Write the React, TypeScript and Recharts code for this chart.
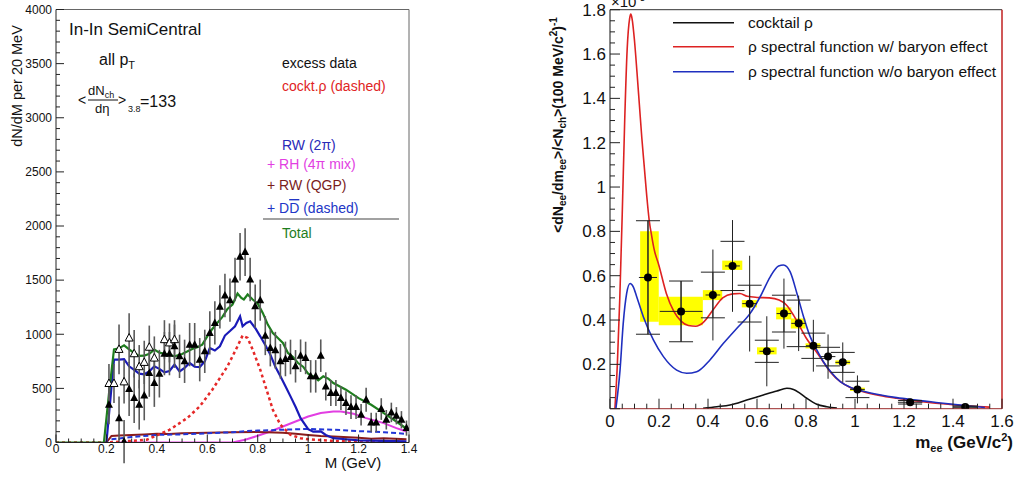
import React from 'react';
import { ComposedChart, Line, Scatter, XAxis, YAxis, ErrorBar, ReferenceArea, ReferenceLine } from 'recharts';

const FONT = '"Liberation Sans", Arial, Helvetica, sans-serif';

// ---------------- Left panel (In-In SemiCentral) ----------------
const totalM = [0, 0.19, 0.21, 0.23, 0.25, 0.27, 0.29, 0.31, 0.33, 0.35, 0.37, 0.39, 0.41, 0.43, 0.45, 0.47, 0.5, 0.52, 0.54, 0.56, 0.58, 0.6, 0.62, 0.64, 0.66, 0.68, 0.7, 0.72, 0.735, 0.745, 0.76, 0.78, 0.8, 0.82, 0.84, 0.86, 0.88, 0.9, 0.92, 0.94, 0.96, 0.98, 1.0, 1.02, 1.04, 1.06, 1.08, 1.1, 1.15, 1.2, 1.25, 1.3, 1.35, 1.39];
const totalN = [0, 0, 450, 860, 870, 898, 860, 827, 800, 802, 820, 858, 830, 820, 810, 796, 818, 840, 864, 880, 904, 981, 1049, 1105, 1160, 1234, 1275, 1376, 1336, 1321, 1367, 1321, 1284, 1197, 1089, 1010, 966, 920, 827, 790, 734, 700, 636, 610, 574, 611, 590, 549, 488, 410, 349, 272, 194, 127];

const rw2piM = [0.2, 0.23, 0.25, 0.27, 0.29, 0.31, 0.33, 0.35, 0.37, 0.39, 0.41, 0.43, 0.45, 0.47, 0.49, 0.51, 0.53, 0.55, 0.57, 0.59, 0.61, 0.63, 0.65, 0.67, 0.69, 0.71, 0.73, 0.74, 0.755, 0.77, 0.79, 0.81, 0.83, 0.85, 0.87, 0.89, 0.91, 0.93, 0.95, 0.97, 1.0, 1.02, 1.05, 1.07, 1.1, 1.15, 1.2, 1.3, 1.39];
const rw2piN = [0, 765, 765, 770, 704, 670, 636, 630, 657, 704, 680, 648, 660, 719, 657, 690, 734, 700, 697, 750, 873, 850, 889, 988, 1030, 1074, 1166, 1074, 1105, 1120, 1058, 981, 900, 812, 700, 611, 520, 426, 330, 225, 123, 100, 102, 70, 40, 30, 20, 15, 10];

const cocktM = [0, 0.2, 0.3, 0.36, 0.45, 0.52, 0.57, 0.62, 0.68, 0.72, 0.74, 0.76, 0.78, 0.81, 0.835, 0.86, 0.89, 0.93, 0.97, 1.0, 1.1, 1.2, 1.39];
const cocktN = [0, 0, 15, 25, 117, 225, 333, 488, 703, 889, 988, 966, 858, 673, 488, 302, 164, 71, 40, 30, 15, 10, 5];

const rhM = [0.25, 0.7, 0.75, 0.8, 0.85, 0.9, 0.95, 1.0, 1.05, 1.1, 1.13, 1.18, 1.23, 1.3, 1.35, 1.39];
const rhN = [0, 0, 25, 62, 102, 148, 194, 240, 272, 287, 287, 265, 225, 179, 133, 102];

const qgpM = [0.2, 0.22, 0.25, 0.3, 0.35, 0.4, 0.45, 0.5, 0.6, 0.7, 0.8, 0.9, 0.95, 1.0, 1.05, 1.1, 1.2, 1.25, 1.3, 1.39];
const qgpN = [0, 60, 65, 70, 75, 80, 78, 85, 90, 95, 97, 90, 80, 70, 60, 55, 45, 35, 40, 30];

const ddM = [0.22, 0.3, 0.4, 0.5, 0.6, 0.7, 0.75, 0.8, 0.9, 1.0, 1.1, 1.2, 1.3, 1.39];
const ddN = [30, 50, 70, 75, 85, 95, 105, 110, 118, 125, 118, 105, 95, 80];

const excessM = [0.21, 0.25, 0.27, 0.29, 0.31, 0.33, 0.35, 0.37, 0.39, 0.41, 0.43, 0.45, 0.47, 0.49, 0.51, 0.53, 0.55, 0.57, 0.59, 0.61, 0.63, 0.65, 0.67, 0.69, 0.71, 0.73, 0.75, 0.77, 0.79, 0.81, 0.83, 0.85, 0.87, 0.89, 0.91, 0.93, 0.95, 0.97, 0.99, 1.01, 1.03, 1.05, 1.07, 1.09, 1.11, 1.13, 1.15, 1.17, 1.19, 1.21, 1.23, 1.25, 1.27, 1.29, 1.31, 1.33, 1.35, 1.37, 1.39];
const excessN = [349, 225, 9, 494, 410, 349, 435, 642, 549, 636, 821, 821, 889, 796, 750, 904, 904, 765, 842, 1012, 1105, 1253, 1358, 1315, 1506, 1716, 1759, 1506, 1259, 1315, 987, 873, 852, 750, 772, 790, 704, 802, 781, 611, 611, 802, 518, 457, 457, 410, 364, 327, 327, 256, 395, 185, 185, 309, 210, 278, 247, 210, 133];
const excessErr = [180, 200, 200, 250, 230, 230, 230, 220, 220, 220, 200, 200, 200, 200, 200, 200, 200, 200, 200, 200, 200, 200, 200, 200, 200, 220, 220, 200, 200, 190, 180, 170, 170, 160, 160, 160, 150, 150, 150, 150, 150, 150, 130, 120, 120, 110, 110, 110, 110, 100, 110, 90, 90, 100, 90, 90, 80, 80, 70];

const openM = [0.21, 0.23, 0.25, 0.27, 0.29, 0.31, 0.33, 0.35, 0.37, 0.39, 0.43, 0.45, 0.47];
const openN = [545, 545, 860, 560, 965, 820, 700, 740, 880, 780, 950, 920, 950];
const openErr = [180, 180, 230, 200, 230, 220, 200, 200, 200, 200, 180, 180, 180];

const leftXMajor = [0, 0.2, 0.4, 0.6, 0.8, 1, 1.2, 1.4];
const leftYMajor = [0, 500, 1000, 1500, 2000, 2500, 3000, 3500, 4000];

// ---------------- Right panel (rho spectral function) ----------------
const cocktailRhoM = [0.38, 0.436, 0.49, 0.558, 0.626, 0.681, 0.722, 0.749, 0.776, 0.803, 0.844, 0.885, 0.926];
const cocktailRhoY = [0.002, 0.009, 0.017, 0.039, 0.062, 0.08, 0.092, 0.087, 0.069, 0.047, 0.02, 0.009, 0.003];

const withBaryonM = [0.02, 0.03, 0.04, 0.05, 0.06, 0.07, 0.08, 0.085, 0.09, 0.1, 0.11, 0.12, 0.13, 0.14, 0.15, 0.16, 0.17, 0.18, 0.2, 0.23, 0.26, 0.29, 0.32, 0.35, 0.38, 0.42, 0.46, 0.5, 0.53, 0.56, 0.6, 0.65, 0.69, 0.72, 0.75, 0.78, 0.8, 0.84, 0.87, 0.9, 0.94, 0.98, 1.03, 1.1, 1.17, 1.24, 1.31, 1.38, 1.44, 1.5, 1.55];
const withBaryonY = [0, 0.2, 0.5, 0.88, 1.3, 1.62, 1.76, 1.78, 1.76, 1.66, 1.52, 1.37, 1.22, 1.09, 0.96, 0.85, 0.78, 0.72, 0.645, 0.52, 0.44, 0.395, 0.375, 0.372, 0.388, 0.445, 0.5, 0.518, 0.52, 0.507, 0.502, 0.5, 0.49, 0.468, 0.42, 0.36, 0.32, 0.26, 0.212, 0.165, 0.122, 0.096, 0.078, 0.06, 0.047, 0.036, 0.027, 0.02, 0.014, 0.01, 0.007];

const noBaryonM = [0.024, 0.041, 0.054, 0.068, 0.082, 0.095, 0.109, 0.136, 0.177, 0.218, 0.272, 0.313, 0.354, 0.408, 0.463, 0.517, 0.572, 0.613, 0.654, 0.688, 0.708, 0.735, 0.763, 0.79, 0.817, 0.844, 0.871, 0.906, 0.94, 0.98, 1.03, 1.1, 1.17, 1.24, 1.31, 1.38, 1.44, 1.5, 1.53];
const noBaryonY = [0, 0.175, 0.385, 0.52, 0.565, 0.55, 0.505, 0.415, 0.31, 0.235, 0.174, 0.16, 0.167, 0.22, 0.295, 0.362, 0.43, 0.505, 0.595, 0.644, 0.648, 0.618, 0.52, 0.415, 0.325, 0.265, 0.212, 0.16, 0.122, 0.097, 0.08, 0.063, 0.05, 0.04, 0.031, 0.022, 0.015, 0.009, 0.005];

const dataM = [0.155, 0.29, 0.42, 0.5, 0.57, 0.64, 0.71, 0.77, 0.83, 0.89, 0.95, 1.01, 1.225, 1.45];
const dataY = [0.592, 0.439, 0.513, 0.644, 0.474, 0.259, 0.429, 0.385, 0.284, 0.235, 0.209, 0.087, 0.029, 0.008];
const dataErrTot = [0.256, 0.137, 0.205, 0.207, 0.216, 0.158, 0.158, 0.125, 0.117, 0.1, 0.09, 0.063, 0.012, 0.006];
const dataErrIn = [0.256, 0.137, 0.103, 0.111, 0.083, 0.05, 0.083, 0.105, 0.057, 0.042, 0.045, 0.037, 0.008, 0.004];
const dataErrX = [0.037, 0.087, 0.03, 0.03, 0.03, 0.03, 0.03, 0.03, 0.03, 0.03, 0.03, 0.03, 0.05, 0.05];

const sysLo = [0.123, 0.199, 0.379, 0.458, 0.538, 0.6, 0.678, 0.738, 0.798, 0.92, 0.98];
const sysHi = [0.199, 0.379, 0.458, 0.54, 0.6, 0.68, 0.74, 0.798, 0.858, 0.98, 1.04];
const sysBot = [0.392, 0.377, 0.49, 0.626, 0.457, 0.245, 0.403, 0.362, 0.272, 0.2, 0.08];
const sysTop = [0.8, 0.505, 0.535, 0.668, 0.49, 0.277, 0.457, 0.407, 0.295, 0.218, 0.095];

const rightXMajor = [0, 0.2, 0.4, 0.6, 0.8, 1, 1.2, 1.4, 1.6];
const rightYMajor = [0, 0.2, 0.4, 0.6, 0.8, 1, 1.2, 1.4, 1.6, 1.8];

// ---------------- helpers ----------------
const pts = (xs: number[], ys: number[]) => xs.map((x, i) => ({ x, y: ys[i] }));
const ptsErr = (xs: number[], ys: number[], es: number[]) => xs.map((x, i) => ({ x, y: ys[i], e: es[i] }));

const subdivide = (majors: number[], n: number) => {
  const out: number[] = [];
  for (let i = 0; i < majors.length - 1; i++) {
    const a = majors[i];
    const b = majors[i + 1];
    for (let k = 0; k < n; k++) out.push(Math.round((a + ((b - a) * k) / n) * 100000) / 100000);
  }
  out.push(majors[majors.length - 1]);
  return out;
};

const isMajor = (majors: number[], v: number) => majors.some((m) => Math.abs(m - v) < 1e-6);

const makeXTick = (majors: number[], fs: number, off: number, majLen: number, minLen: number, color: string) => (p: any) => {
  const v = p.payload.value;
  const mj = isMajor(majors, v);
  return (
    <g>
      <line x1={p.x} x2={p.x} y1={p.y} y2={p.y - (mj ? majLen : minLen)} stroke={color} strokeWidth={1} />
      {mj && (
        <text x={p.x} y={p.y + off} textAnchor="middle" fontSize={fs} fontFamily={FONT} fill="#111">
          {String(v)}
        </text>
      )}
    </g>
  );
};

const makeYTick = (majors: number[], fs: number, majLen: number, minLen: number, color: string, showZero: boolean) => (p: any) => {
  const v = p.payload.value;
  const mj = isMajor(majors, v);
  return (
    <g>
      <line x1={p.x} x2={p.x + (mj ? majLen : minLen)} y1={p.y} y2={p.y} stroke={color} strokeWidth={1} />
      {mj && (showZero || v !== 0) && (
        <text x={p.x - 4} y={p.y + fs * 0.36} textAnchor="end" fontSize={fs} fontFamily={FONT} fill="#111">
          {String(v)}
        </text>
      )}
    </g>
  );
};

const FilledTri = (p: any) => (
  <polygon points={`${p.cx},${p.cy - 4.5} ${p.cx - 4},${p.cy + 3} ${p.cx + 4},${p.cy + 3}`} fill="#000" />
);
const OpenTri = (p: any) => (
  <polygon points={`${p.cx},${p.cy - 4.5} ${p.cx - 4},${p.cy + 3} ${p.cx + 4},${p.cy + 3}`} fill="#fff" stroke="#000" strokeWidth={1} />
);
const Dot = (p: any) => <circle cx={p.cx} cy={p.cy} r={4} fill="#000" />;

const LeftChart = () => (
  <ComposedChart width={520} height={479} margin={{ top: 9.5, right: 111, bottom: 6.5, left: 16 }}>
    <XAxis
      type="number"
      dataKey="x"
      domain={[0, 1.4]}
      allowDataOverflow
      ticks={subdivide(leftXMajor, 4)}
      interval={0}
      tickSize={0}
      tickMargin={0}
      tickLine={false}
      axisLine={{ stroke: '#222' }}
      tick={makeXTick(leftXMajor, 12, 10, 8, 4, '#222')}
      height={30}
    />
    <YAxis
      type="number"
      dataKey="y"
      domain={[0, 4000]}
      allowDataOverflow
      ticks={subdivide(leftYMajor, 5)}
      interval={0}
      tickSize={0}
      tickMargin={0}
      tickLine={false}
      axisLine={{ stroke: '#222' }}
      tick={makeYTick(leftYMajor, 12, 8, 4, '#222', true)}
      width={40}
    />
    <ReferenceLine y={4000} stroke="#666" />
    <ReferenceLine x={1.4} stroke="#666" />
    <Line data={pts(rhM, rhN)} dataKey="y" type="linear" stroke="#e23ee2" strokeWidth={2} dot={false} isAnimationActive={false} />
    <Line data={pts(qgpM, qgpN)} dataKey="y" type="linear" stroke="#8a1c1c" strokeWidth={2} dot={false} isAnimationActive={false} />
    <Line data={pts(ddM, ddN)} dataKey="y" type="linear" stroke="#2236d6" strokeWidth={2} strokeDasharray="5 3" dot={false} isAnimationActive={false} />
    <Line data={pts(cocktM, cocktN)} dataKey="y" type="linear" stroke="#e52828" strokeWidth={2.5} strokeDasharray="3 3" dot={false} isAnimationActive={false} />
    <Line data={pts(rw2piM, rw2piN)} dataKey="y" type="linear" stroke="#1a1ab8" strokeWidth={2.2} dot={false} isAnimationActive={false} />
    <Line data={pts(totalM, totalN)} dataKey="y" type="linear" stroke="#1e7d1e" strokeWidth={2.2} dot={false} isAnimationActive={false} />
    <Scatter data={ptsErr(openM, openN, openErr)} dataKey="y" shape={OpenTri} isAnimationActive={false}>
      <ErrorBar dataKey="e" direction="y" width={0} stroke="#5a5a5a" strokeWidth={1.6} />
    </Scatter>
    <Scatter data={ptsErr(excessM, excessN, excessErr)} dataKey="y" shape={FilledTri} isAnimationActive={false}>
      <ErrorBar dataKey="e" direction="y" width={0} stroke="#5a5a5a" strokeWidth={1.6} />
    </Scatter>
  </ComposedChart>
);

const RightChart = () => {
  const pd = dataM.map((x, i) => ({ x, y: dataY[i], et: dataErrTot[i], ei: dataErrIn[i], ex: dataErrX[i] }));
  return (
    <ComposedChart width={476} height={479} margin={{ top: 9.7, right: 14, bottom: 40.3, left: 30 }}>
      <XAxis
        type="number"
        dataKey="x"
        domain={[0, 1.6]}
        allowDataOverflow
        ticks={subdivide(rightXMajor, 4)}
        interval={0}
        tickSize={0}
        tickMargin={0}
        tickLine={false}
        axisLine={{ stroke: '#9a2a2a' }}
        tick={makeXTick(rightXMajor, 17, 18, 10, 5, '#222')}
        height={30}
      />
      <YAxis
        type="number"
        dataKey="y"
        domain={[0, 1.8]}
        allowDataOverflow
        ticks={subdivide(rightYMajor, 4)}
        interval={0}
        tickSize={0}
        tickMargin={0}
        tickLine={false}
        axisLine={{ stroke: '#111' }}
        tick={makeYTick(rightYMajor, 17, 10, 5, '#222', false)}
        width={40}
      />
      {sysLo.map((lo, i) => (
        <ReferenceArea key={i} x1={lo} x2={sysHi[i]} y1={sysBot[i]} y2={sysTop[i]} fill="#ffff00" fillOpacity={1} stroke="none" ifOverflow="visible" />
      ))}
      <ReferenceLine y={1.8} stroke="#333" />
      <ReferenceLine x={1.6} stroke="#c02020" strokeWidth={1.5} />
      <Line data={pts(cocktailRhoM, cocktailRhoY)} dataKey="y" type="monotone" stroke="#111" strokeWidth={1.6} dot={false} isAnimationActive={false} />
      <Line data={pts(withBaryonM, withBaryonY)} dataKey="y" type="monotone" stroke="#dd2222" strokeWidth={1.6} dot={false} isAnimationActive={false} />
      <Line data={pts(noBaryonM, noBaryonY)} dataKey="y" type="monotone" stroke="#1f2fbf" strokeWidth={1.6} dot={false} isAnimationActive={false} />
      <Scatter data={pd} dataKey="y" shape={Dot} isAnimationActive={false}>
        <ErrorBar dataKey="et" direction="y" width={0} stroke="#222" strokeWidth={1} />
        <ErrorBar dataKey="ei" direction="y" width={12} stroke="#222" strokeWidth={1} />
        <ErrorBar dataKey="ex" direction="x" width={0} stroke="#222" strokeWidth={1} />
      </Scatter>
    </ComposedChart>
  );
};

const Overlay = () => (
  <svg width={1016} height={479} style={{ position: 'absolute', left: 0, top: 0, pointerEvents: 'none' }} fontFamily={FONT}>
    {/* left panel annotations */}
    <text x={22} y={86} transform="rotate(-90 22 86)" textAnchor="middle" fontSize={14.5} fill="#111">dN/dM per 20 MeV</text>
    <text x={353} y={468} textAnchor="middle" fontSize={15} fill="#111">M (GeV)</text>
    <text x={69} y={35} fontSize={17} fill="#111">In-In SemiCentral</text>
    <text x={99} y={65} fontSize={16} fill="#111">
      all p<tspan fontSize={11} dy={4}>T</tspan>
    </text>
    <text x={78} y={105} fontSize={14} fill="#111">&lt;</text>
    <text x={88} y={95} fontSize={13} fill="#111">
      dN<tspan fontSize={9} dy={3}>ch</tspan>
    </text>
    <line x1={88} x2={118} y1={100} y2={100} stroke="#111" strokeWidth={1} />
    <text x={95} y={113} fontSize={13} fill="#111">dη</text>
    <text x={118} y={105} fontSize={14} fill="#111">&gt;</text>
    <text x={128} y={112} fontSize={9} fill="#111">3.8</text>
    <text x={140} y={107} fontSize={16} fill="#111">=133</text>

    <text x={282} y={68} fontSize={14} fill="#111">excess data</text>
    <text x={282} y={91} fontSize={14} fill="#e02424">cockt.ρ (dashed)</text>
    <text x={282} y={150} fontSize={14} fill="#2a2ab8">RW (2π)</text>
    <text x={267} y={169} fontSize={14} fill="#e23ee2">+ RH (4π mix)</text>
    <text x={267} y={190} fontSize={14} fill="#7a1c1c">+ RW (QGP)</text>
    <text x={267} y={213} fontSize={14} fill="#2236c6">
      + D<tspan style={{ textDecoration: 'overline' }}>D</tspan> (dashed)
    </text>
    <line x1={263} x2={399} y1={219} y2={219} stroke="#444" strokeWidth={1.2} />
    <text x={282} y={238} fontSize={14} fill="#1e7d1e">Total</text>

    {/* right panel annotations */}
    <text x={611} y={7} fontSize={15} fill="#111">
      ×10<tspan fontSize={10} dy={-6}>-3</tspan>
    </text>
    <text x={563} y={125} transform="rotate(-90 563 125)" textAnchor="middle" fontSize={14} fontWeight="bold" fill="#111">
      &lt;dN<tspan fontSize={10} dy={3}>ee</tspan>
      <tspan dy={-3}>/dm</tspan>
      <tspan fontSize={10} dy={3}>ee</tspan>
      <tspan dy={-3}>&gt;/&lt;N</tspan>
      <tspan fontSize={10} dy={3}>ch</tspan>
      <tspan dy={-3}>&gt;(100 MeV/c</tspan>
      <tspan fontSize={10} dy={-6}>2</tspan>
      <tspan dy={6}>)</tspan>
      <tspan fontSize={10} dy={-6}>-1</tspan>
    </text>
    <text x={1013} y={448} textAnchor="end" fontSize={17} fontWeight="bold" fill="#111">
      m<tspan fontSize={11} dy={4}>ee</tspan>
      <tspan dy={-4}> (GeV/c</tspan>
      <tspan fontSize={11} dy={-7}>2</tspan>
      <tspan dy={7}>)</tspan>
    </text>

    <line x1={673} x2={734} y1={22.7} y2={22.7} stroke="#111" strokeWidth={1.6} />
    <line x1={673} x2={734} y1={46.7} y2={46.7} stroke="#dd2222" strokeWidth={1.6} />
    <line x1={673} x2={734} y1={71.7} y2={71.7} stroke="#1f2fbf" strokeWidth={1.6} />
    <text x={748} y={28} fontSize={15.5} fill="#111">cocktail ρ</text>
    <text x={748} y={52} fontSize={15.5} fill="#111">ρ spectral function w/ baryon effect</text>
    <text x={748} y={77} fontSize={15.5} fill="#111">ρ spectral function w/o baryon effect</text>
  </svg>
);

export default function App() {
  return (
    <div style={{ position: 'absolute', left: 0, top: 0, width: 1016, height: 479, background: '#fff', overflow: 'hidden' }}>
      <div style={{ position: 'absolute', left: 0, top: 0 }}>
        <LeftChart />
      </div>
      <div style={{ position: 'absolute', left: 540, top: 0 }}>
        <RightChart />
      </div>
      <Overlay />
    </div>
  );
}
